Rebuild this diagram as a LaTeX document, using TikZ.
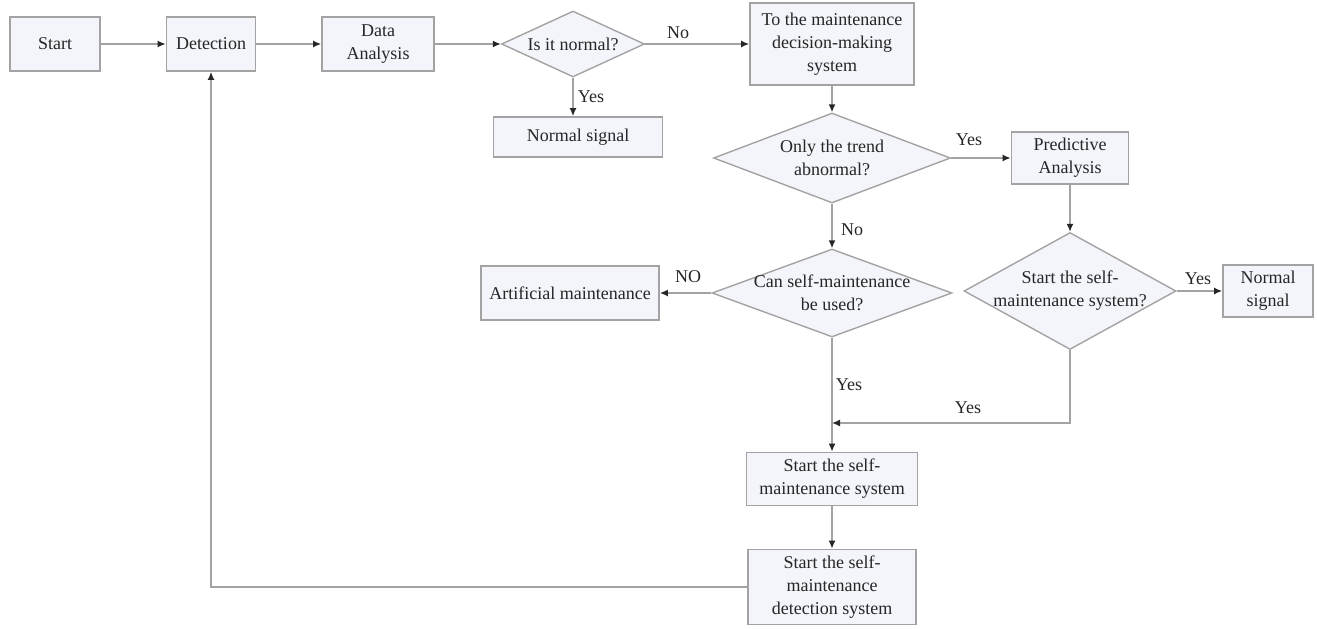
\documentclass[tikz,border=0pt]{standalone}
\usepackage{fontspec}
\setmainfont{Liberation Serif}
\newfontfamily\diagfont{Liberation Serif}
\usetikzlibrary{shapes.geometric,arrows.meta}
\definecolor{boxfill}{HTML}{F3F5FA}
\definecolor{edgegray}{HTML}{A3A3A3}
\definecolor{inkgray}{HTML}{262626}
\begin{document}
\begin{tikzpicture}[x=1pt,y=-1pt,
  every node/.style={font=\diagfont\fontsize{18}{23}\selectfont, text=inkgray},
  box/.style={draw=edgegray, fill=boxfill, line width=1.7pt, align=center, inner sep=0pt},
  dia/.style={draw=edgegray, fill=boxfill, line width=1.4pt, shape=diamond, inner sep=0pt},
  flow/.style={draw=edgegray, line width=1.5pt, -{Latex[length=8pt,width=7pt,color=black!85]}},
  lbl/.style={inner sep=0pt}]
\useasboundingbox (0,0) rectangle (1317,629);

% process boxes
\node[box, minimum width=90pt, minimum height=54pt] (start) at (55,44) {Start};
\node[box, minimum width=89pt, minimum height=54pt] (detect) at (211,44) {Detection};
\node[box, minimum width=112pt, minimum height=54pt] (data) at (378,44) {Data\\Analysis};
\node[box, minimum width=164pt, minimum height=82pt] (decide) at (832,44) {To the maintenance\\decision-making\\system};
\node[box, minimum width=169pt, minimum height=40pt] (normalA) at (578,137) {Normal signal};
\node[box, minimum width=117pt, minimum height=52pt] (pred) at (1070,158) {Predictive\\Analysis};
\node[box, minimum width=178pt, minimum height=54pt] (artif) at (570,293) {Artificial maintenance};
\node[box, minimum width=90pt, minimum height=52pt] (normalB) at (1268,291) {Normal\\signal};
\node[box, minimum width=171pt, minimum height=53pt] (sms) at (832,479) {Start the self-\\maintenance system};
\node[box, minimum width=168pt, minimum height=75pt] (smds) at (832,587) {Start the self-\\maintenance\\detection system};

% decisions
\node[dia, minimum width=143pt, minimum height=66pt,
  label={[align=center]center:Is it normal?}] (isnorm) at (573,44) {};
\node[dia, minimum width=237pt, minimum height=90pt,
  label={[align=center]center:Only the trend\\abnormal?}] (trend) at (832,158) {};
\node[dia, minimum width=240pt, minimum height=88pt,
  label={[align=center]center:Can self-maintenance\\be used?}] (can) at (832,293) {};
\node[dia, minimum width=212pt, minimum height=117pt,
  label={[align=center]center:Start the self-\\maintenance system?}] (startq) at (1070,291) {};

\coordinate (join) at (832,423);

% connectors
\draw[flow] (start) -- (detect);
\draw[flow] (detect) -- (data);
\draw[flow] (data) -- (isnorm);
\draw[flow] (isnorm) -- (decide);
\draw[flow] (isnorm.south) -- (isnorm.south |- normalA.north);
\draw[flow] (decide) -- (trend);
\draw[flow] (trend) -- (pred);
\draw[flow] (pred) -- (startq);
\draw[flow] (trend) -- (can);
\draw[flow] (can) -- (artif);
\draw[flow] (startq) -- (startq.east -| normalB.west);
\draw[flow] (can) -- (sms);
\draw[flow] (startq.south) |- (join);
\draw[flow] (sms) -- (smds);
\draw[flow] (smds.west) -| (detect.south);

% branch labels
\node[lbl] (lNo1) at (678,33) {No};
\node[lbl] (lYes1) at (591,97) {Yes};
\node[lbl] (lYes2) at (969,140) {Yes};
\node[lbl] (lNo2) at (852,230) {No};
\node[lbl] (lNO3) at (688,277) {NO};
\node[lbl] (lYes3) at (1198,279) {Yes};
\node[lbl] (lYes4) at (849,385) {Yes};
\node[lbl] (lYes5) at (968,408) {Yes};
\end{tikzpicture}
\end{document}
